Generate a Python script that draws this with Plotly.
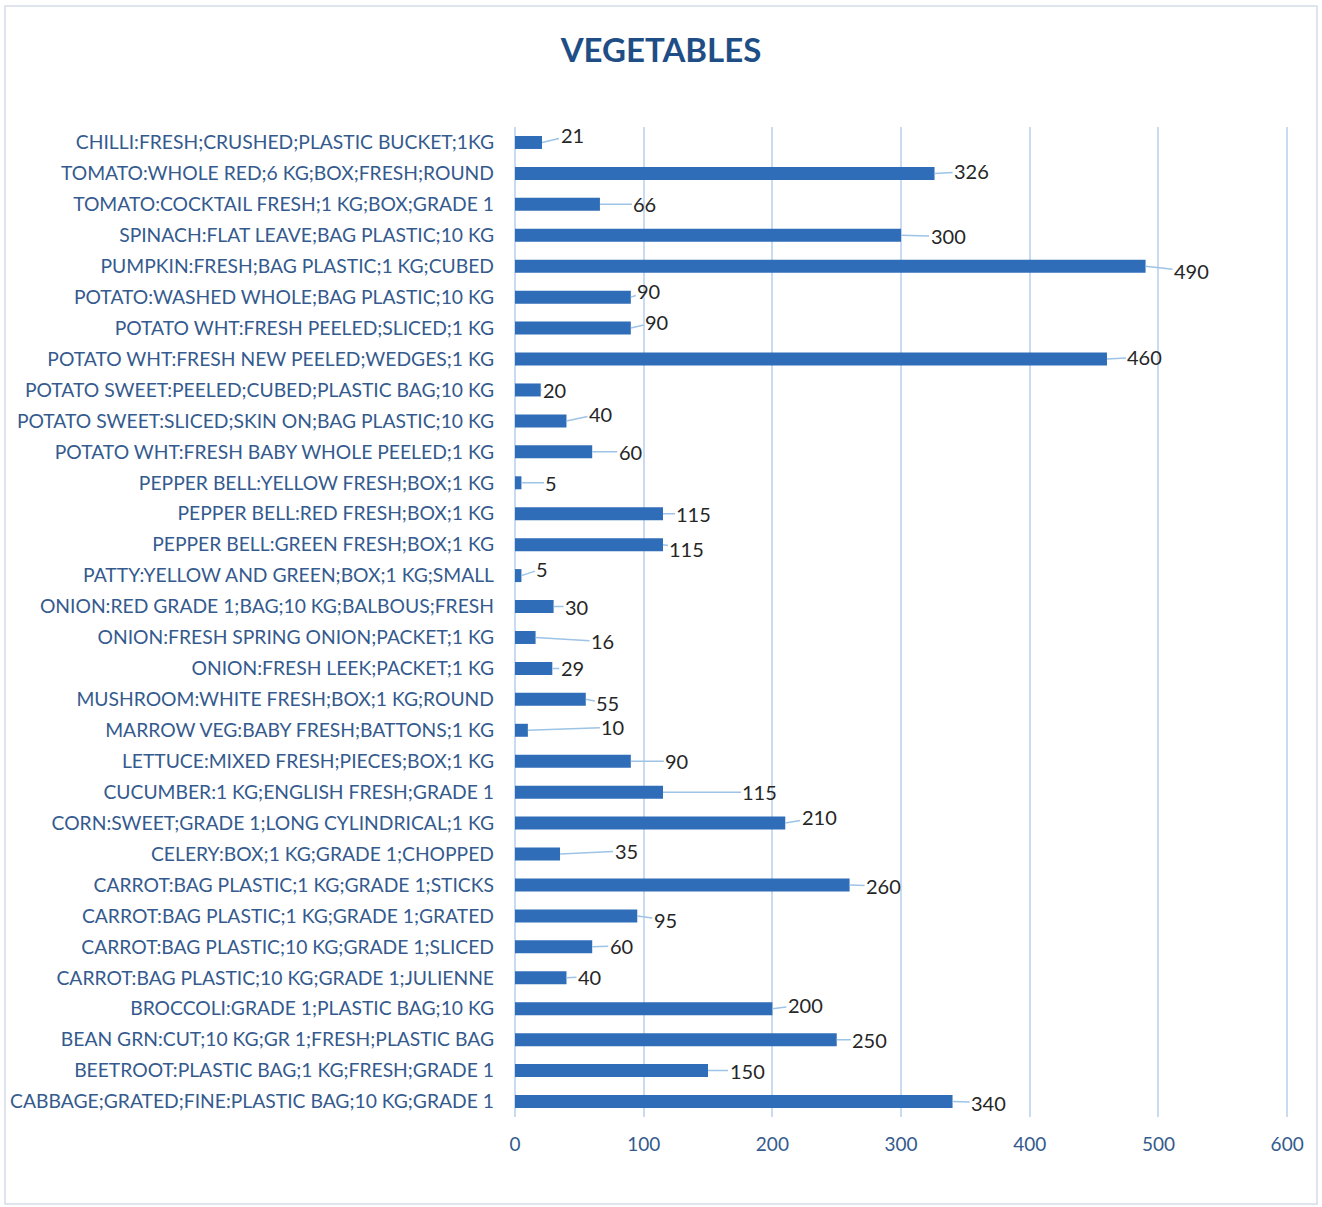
import plotly.graph_objects as go

categories = [
    "CHILLI:FRESH;CRUSHED;PLASTIC BUCKET;1KG",
    "TOMATO:WHOLE RED;6 KG;BOX;FRESH;ROUND",
    "TOMATO:COCKTAIL FRESH;1 KG;BOX;GRADE 1",
    "SPINACH:FLAT LEAVE;BAG PLASTIC;10 KG",
    "PUMPKIN:FRESH;BAG PLASTIC;1 KG;CUBED",
    "POTATO:WASHED WHOLE;BAG PLASTIC;10 KG",
    "POTATO WHT:FRESH PEELED;SLICED;1 KG",
    "POTATO WHT:FRESH NEW PEELED;WEDGES;1 KG",
    "POTATO SWEET:PEELED;CUBED;PLASTIC BAG;10 KG",
    "POTATO SWEET:SLICED;SKIN ON;BAG PLASTIC;10 KG",
    "POTATO WHT:FRESH BABY WHOLE PEELED;1 KG",
    "PEPPER BELL:YELLOW FRESH;BOX;1 KG",
    "PEPPER BELL:RED FRESH;BOX;1 KG",
    "PEPPER BELL:GREEN FRESH;BOX;1 KG",
    "PATTY:YELLOW AND GREEN;BOX;1 KG;SMALL",
    "ONION:RED GRADE 1;BAG;10 KG;BALBOUS;FRESH",
    "ONION:FRESH SPRING ONION;PACKET;1 KG",
    "ONION:FRESH LEEK;PACKET;1 KG",
    "MUSHROOM:WHITE FRESH;BOX;1 KG;ROUND",
    "MARROW VEG:BABY FRESH;BATTONS;1 KG",
    "LETTUCE:MIXED FRESH;PIECES;BOX;1 KG",
    "CUCUMBER:1 KG;ENGLISH FRESH;GRADE 1",
    "CORN:SWEET;GRADE 1;LONG CYLINDRICAL;1 KG",
    "CELERY:BOX;1 KG;GRADE 1;CHOPPED",
    "CARROT:BAG PLASTIC;1 KG;GRADE 1;STICKS",
    "CARROT:BAG PLASTIC;1 KG;GRADE 1;GRATED",
    "CARROT:BAG PLASTIC;10 KG;GRADE 1;SLICED",
    "CARROT:BAG PLASTIC;10 KG;GRADE 1;JULIENNE",
    "BROCCOLI:GRADE 1;PLASTIC BAG;10 KG",
    "BEAN GRN:CUT;10 KG;GR 1;FRESH;PLASTIC BAG",
    "BEETROOT:PLASTIC BAG;1 KG;FRESH;GRADE 1",
    "CABBAGE;GRATED;FINE:PLASTIC BAG;10 KG;GRADE 1",
]
values = [21, 326, 66, 300, 490, 90, 90, 460, 20, 40, 60, 5, 115, 115, 5, 30,
          16, 29, 55, 10, 90, 115, 210, 35, 260, 95, 60, 40, 200, 250, 150, 340]
x_ticks = [0, 100, 200, 300, 400, 500, 600]

# data-label offsets (pixels) from bar end, mimicking the leader-line placement
label_dx = [30, 37, 45, 47, 46, 18, 26, 38, 14, 34, 38, 30, 31, 24, 21, 23,
            67, 20, 22, 85, 46, 97, 34, 66, 34, 28, 29, 23, 33, 33, 39, 36]
label_dy = [-7, -2, 0, 1, 5, -6, -6, -2, 0, -7, 0, 0, 0, 4, -7, 0,
            4, 0, 4, -3, 0, 0, -6, -3, 1, 4, -1, -1, -4, 0, 0, 1]

BAR = "#2F6DB8"
TICK = "#345A8E"
GRID = "#C9DBF0"
FONT = "Lato"

fig = go.Figure(go.Bar(
    x=values, y=categories, orientation="h",
    marker=dict(color=BAR, line=dict(width=0)),
    width=0.42,
))

for c, v, dx, dy in zip(categories, values, label_dx, label_dy):
    fig.add_annotation(
        x=v, y=c, xref="x", yref="y", text=str(v),
        showarrow=True, arrowhead=0, arrowwidth=1.5, arrowcolor="#9DC3E6",
        ax=dx, ay=dy, standoff=0, startstandoff=0,
        font=dict(family=FONT, size=20, color="#262626"),
        xanchor="center", yanchor="middle",
    )

W, H = 1322, 1207
X_MAX = 603  # a little past the last tick so its gridline is drawn
ml, mt, mb = 515, 127, 90
pw = round(772 * X_MAX / 600)
mr = W - ml - pw
ph = H - mt - mb
fig.add_shape(
    type="rect", xref="paper", yref="paper",
    x0=(5 - ml) / pw, x1=(1317 - ml) / pw,
    y0=1 - (1204 - mt) / ph, y1=1 - (6 - mt) / ph,
    line=dict(color="#D3DDE9", width=1.5), fillcolor="rgba(0,0,0,0)", layer="below",
)

fig.update_layout(
    width=W, height=H,
    margin=dict(l=ml, r=mr, t=mt, b=mb, autoexpand=False),
    paper_bgcolor="white", plot_bgcolor="white",
    showlegend=False,
    title=dict(text="<b>VEGETABLES</b>", xanchor="center", y=1 - 50 / H, yanchor="middle",
               xref="paper", x=(661 - ml) / pw,
               font=dict(family=FONT, size=33, color="#1F4E86")),
    font=dict(family=FONT),
)
fig.update_xaxes(
    range=[0, X_MAX], tickvals=x_ticks, showgrid=True, gridcolor=GRID, gridwidth=1.5,
    zeroline=True, zerolinecolor=GRID, zerolinewidth=1.5, showline=False, automargin=False,
    tickfont=dict(family=FONT, size=19, color=TICK), ticklabelstandoff=14,
)
fig.update_yaxes(
    autorange="reversed", showgrid=False, showline=False, automargin=False,
    tickfont=dict(family=FONT, size=19.3, color=TICK), ticklabelstandoff=20,
)

fig.write_html("out.html", config={"displayModeBar": False},
               post_script="document.body.style.margin='0px';")
